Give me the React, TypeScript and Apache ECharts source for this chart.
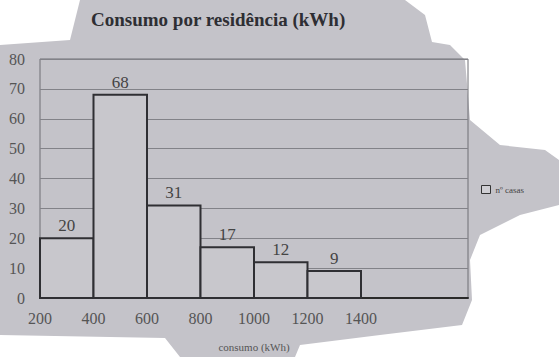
import React, { useEffect, useRef } from "react";
import * as echarts from "echarts";

const binStarts = [200, 400, 600, 800, 1000, 1200];
const binEnds = [400, 600, 800, 1000, 1200, 1400];
const casas = [20, 68, 31, 17, 12, 9];
const yTicks = [0, 10, 20, 30, 40, 50, 60, 70, 80];
const xTickLabels = ["200", "400", "600", "800", "1000", "1200", "1400"];

export default function App() {
  const ref = useRef<HTMLDivElement>(null);
  useEffect(() => {
    if (!ref.current) return;
    const chart = echarts.init(ref.current, null, { renderer: "svg" });
    const data = casas.map((v, i) => [binStarts[i], binEnds[i], v]);
    chart.setOption({
      animation: false,
      backgroundColor: "#ffffff",
      textStyle: { fontFamily: "Liberation Serif, DejaVu Serif, serif" },
      graphic: [
        {
          type: "polygon",
          z: -10,
          silent: true,
          shape: {
            points: [
              [80, 0], [405, 0], [425, 15], [432, 42], [450, 45], [465, 60],
              [470, 120], [500, 145], [545, 150], [559, 160], [559, 205],
              [520, 215], [480, 235], [470, 260], [472, 300], [462, 325],
              [380, 335], [300, 345], [295, 357], [180, 357], [165, 338],
              [0, 335], [0, 45], [70, 40],
            ],
          },
          style: { fill: "#c4c3c9" },
        },
      ],
      title: {
        text: "Consumo por residência (kWh)",
        left: 86,
        top: 5,
        textStyle: {
          fontFamily: "Liberation Serif, serif",
          fontWeight: "bold",
          fontSize: 19,
          color: "#2e2e33",
        },
      },
      legend: {
        left: 476,
        top: 180,
        itemWidth: 9,
        itemHeight: 8,
        itemGap: 4,
        icon: "rect",
        textStyle: { fontSize: 9, color: "#444", fontFamily: "Liberation Serif, serif" },
        data: [{ name: "nº casas", itemStyle: { color: "#cfced3", borderColor: "#333", borderWidth: 1 } }],
      },
      grid: {
        left: 40,
        right: 91,
        top: 59,
        bottom: 59,
        show: true,
        borderColor: "#6e6e74",
        borderWidth: 1,
        backgroundColor: "transparent",
      },
      xAxis: {
        type: "value",
        min: 200,
        max: 1800,
        interval: 200,
        name: "consumo (kWh)",
        nameLocation: "middle",
        nameGap: 43,
        nameTextStyle: { fontSize: 11, color: "#555" },
        axisLine: { show: true, lineStyle: { color: "#2a2a2a", width: 2 } },
        axisTick: { show: false },
        splitLine: { show: false },
        axisLabel: {
          fontSize: 16,
          color: "#555",
          margin: 12,
          formatter: (v: number) => (xTickLabels.includes(String(v)) ? String(v) : ""),
        },
      },
      yAxis: {
        type: "value",
        min: yTicks[0],
        max: yTicks[yTicks.length - 1],
        interval: 10,
        axisLine: { show: false },
        axisTick: { show: false },
        splitLine: { show: true, lineStyle: { color: "#828288", width: 1 } },
        axisLabel: { fontSize: 16, color: "#555", margin: 15 },
      },
      series: [
        {
          name: "nº casas",
          type: "custom",
          data,
          encode: { x: [0, 1], y: 2 },
          renderItem: (params: any, api: any) => {
            const s = api.value(0);
            const e = api.value(1);
            const v = api.value(2);
            const p0 = api.coord([s, 0]);
            const p1 = api.coord([e, v]);
            return {
              type: "group",
              children: [
                {
                  type: "rect",
                  shape: { x: p0[0], y: p1[1], width: p1[0] - p0[0], height: p0[1] - p1[1] },
                  style: { fill: "#c8c7cc", stroke: "#2f2f33", lineWidth: 2 },
                },
                {
                  type: "text",
                  style: {
                    text: String(v),
                    x: (p0[0] + p1[0]) / 2,
                    y: p1[1] - 4,
                    textAlign: "center",
                    textVerticalAlign: "bottom",
                    fontSize: 17,
                    fill: "#444",
                    fontFamily: "Liberation Serif, serif",
                  },
                },
              ],
            };
          },
        },
      ],
    });
    return () => chart.dispose();
  }, []);
  return (
    <div
      ref={ref}
      style={{ position: "fixed", left: 0, top: 0, width: 559, height: 357 }}
    />
  );
}
